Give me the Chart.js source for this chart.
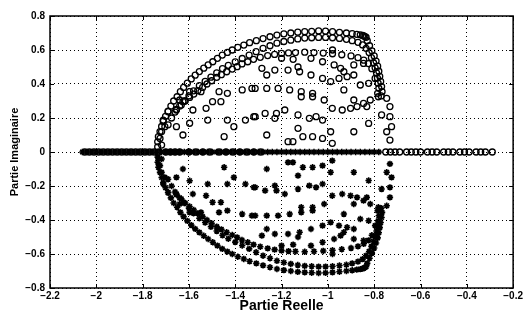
<!DOCTYPE html>
<html>
<head>
<meta charset="utf-8">
<script src="https://cdn.jsdelivr.net/npm/chart.js@4/dist/chart.umd.min.js"></script>
<style>
  html, body { margin: 0; padding: 0; background: #fff; }
  #wrap { width: 525px; height: 311px; }
</style>
</head>
<body>
<div id="wrap"><canvas id="lieu" width="525" height="311"></canvas></div>
<script>
// axis ticks
const xTicks = [-2.2, -2, -1.8, -1.6, -1.4, -1.2, -1, -0.8, -0.6, -0.4, -0.2];
const xTickLabels = ['\u22122.2', '\u22122', '\u22121.8', '\u22121.6', '\u22121.4', '\u22121.2', '\u22121', '\u22120.8', '\u22120.6', '\u22120.4', '\u22120.2'];
const yTicks = [-0.8, -0.6, -0.4, -0.2, 0, 0.2, 0.4, 0.6, 0.8];
const yTickLabels = ['\u22120.8', '\u22120.6', '\u22120.4', '\u22120.2', '0', '0.2', '0.4', '0.6', '0.8'];

// poles with positive imaginary part (o)
const outerArcUp = [[-1.735,0.03],[-1.735,0.06],[-1.732,0.09],[-1.725,0.12],[-1.718,0.15],[-1.711,0.18],[-1.701,0.21],[-1.69,0.24],[-1.678,0.27],[-1.666,0.3],[-1.651,0.325],[-1.637,0.355],[-1.623,0.38],[-1.607,0.405],[-1.59,0.43],[-1.573,0.452],[-1.555,0.473],[-1.536,0.493],[-1.517,0.512],[-1.497,0.531],[-1.477,0.551],[-1.456,0.57],[-1.434,0.586],[-1.413,0.6],[-1.389,0.616],[-1.363,0.629],[-1.338,0.643],[-1.309,0.655],[-1.28,0.667],[-1.25,0.678],[-1.22,0.688],[-1.19,0.695],[-1.16,0.7],[-1.13,0.705],[-1.1,0.708],[-1.07,0.71],[-1.04,0.712],[-1.01,0.711],[-0.98,0.708],[-0.95,0.704],[-0.92,0.7],[-0.895,0.696],[-0.875,0.692],[-0.86,0.689],[-0.85,0.686],[-0.845,0.683],[-0.84,0.679],[-0.835,0.675],[-0.83,0.655],[-0.82,0.625],[-0.81,0.595],[-0.8,0.565],[-0.792,0.535],[-0.785,0.505],[-0.78,0.475],[-0.776,0.445],[-0.772,0.415],[-0.768,0.385],[-0.766,0.355],[-0.77,0.33]];
const secondArcUp = [[-1.69,0.16],[-1.675,0.2],[-1.66,0.235],[-1.64,0.27],[-1.62,0.3],[-1.6,0.33],[-1.58,0.36],[-1.555,0.39],[-1.53,0.415],[-1.505,0.44],[-1.48,0.465],[-1.455,0.49],[-1.43,0.51],[-1.4,0.53],[-1.37,0.55],[-1.34,0.57],[-1.31,0.59],[-1.28,0.61],[-1.25,0.625],[-1.22,0.64],[-1.19,0.65],[-1.16,0.658],[-1.13,0.665],[-1.1,0.67],[-1.07,0.672],[-1.04,0.674],[-1.01,0.674],[-0.98,0.672],[-0.95,0.668],[-0.92,0.663],[-0.895,0.655],[-0.87,0.645],[-0.85,0.63],[-0.835,0.61],[-0.822,0.585],[-0.812,0.555],[-0.803,0.525],[-0.796,0.495],[-0.79,0.465],[-0.786,0.435],[-0.783,0.405],[-0.78,0.375],[-0.785,0.345]];
const thirdArcUp = [[-1.654,0.251],[-1.633,0.276],[-1.616,0.3],[-1.597,0.321],[-1.579,0.341],[-1.562,0.361],[-1.541,0.38],[-1.522,0.4],[-1.502,0.419],[-1.48,0.439],[-1.46,0.455],[-1.437,0.472],[-1.413,0.488],[-1.392,0.502],[-1.371,0.518],[-1.346,0.531],[-1.321,0.545],[-1.292,0.557],[-1.26,0.567],[-1.23,0.574],[-1.2,0.58],[-1.17,0.583],[-1.14,0.585],[-1.1,0.587],[-1.06,0.585],[-1.02,0.582],[-0.98,0.578],[-0.94,0.572],[-0.9,0.565],[-0.87,0.555],[-0.845,0.54],[-0.825,0.52],[-0.81,0.49]];
const innerLeftUp = [[-1.597,0.355],[-1.548,0.355],[-1.47,0.355],[-1.434,0.345],[-1.37,0.365],[-1.328,0.374],[-1.64,0.306],[-1.626,0.296],[-1.498,0.296],[-1.462,0.296],[-1.69,0.237],[-1.654,0.247],[-1.583,0.247],[-1.526,0.257],[-1.711,0.188],[-1.704,0.149],[-1.654,0.149],[-1.597,0.169],[-1.519,0.188],[-1.434,0.188],[-1.356,0.188],[-1.32,0.208],[-1.626,0.1],[-1.448,0.09],[-1.406,0.149],[-1.718,0.12],[-1.725,0.08],[-1.718,0.041]];
const innerRightUp = [[-1.285,0.492],[-1.229,0.482],[-1.172,0.482],[-1.122,0.472],[-1.073,0.551],[-1.023,0.531],[-0.973,0.512],[-0.931,0.472],[-0.888,0.512],[-0.846,0.521],[-1.264,0.453],[-1.314,0.374],[-1.264,0.374],[-1.215,0.374],[-1.165,0.365],[-1.115,0.355],[-1.066,0.345],[-1.023,0.433],[-0.988,0.414],[-0.952,0.433],[-0.917,0.443],[-0.888,0.453],[-0.86,0.394],[-0.824,0.404],[-0.796,0.433],[-1.115,0.325],[-1.066,0.325],[-1.016,0.306],[-0.931,0.365],[-0.888,0.306],[-0.846,0.286],[-0.817,0.306],[-0.782,0.325],[-0.746,0.316],[-0.732,0.267],[-1.314,0.208],[-1.271,0.227],[-1.222,0.227],[-1.229,0.198],[-1.186,0.247],[-1.129,0.218],[-1.08,0.198],[-1.051,0.208],[-1.023,0.188],[-0.981,0.257],[-0.938,0.247],[-0.902,0.257],[-0.874,0.267],[-0.832,0.267],[-0.768,0.218],[-0.732,0.208],[-1.264,0.1],[-1.172,0.061],[-1.151,0.061],[-1.129,0.139],[-1.108,0.09],[-1.066,0.09],[-1.023,0.08],[-0.988,0.119],[-0.981,0.051],[-0.888,0.119],[-0.824,0.168],[-0.746,0.119],[-0.725,0.149],[-0.732,0.07],[-1.2,0.551],[-1.15,0.545],[-0.98,0.6],[-1.129,0.5],[-1.073,0.453],[-0.945,0.492]];

// conjugate poles, negative imaginary part (*)
const outerArcDown = [[-1.735,-0.03],[-1.735,-0.06],[-1.732,-0.09],[-1.725,-0.12],[-1.718,-0.15],[-1.711,-0.18],[-1.701,-0.21],[-1.69,-0.24],[-1.678,-0.27],[-1.666,-0.3],[-1.651,-0.325],[-1.637,-0.355],[-1.623,-0.38],[-1.607,-0.405],[-1.59,-0.43],[-1.573,-0.452],[-1.555,-0.473],[-1.536,-0.493],[-1.517,-0.512],[-1.497,-0.531],[-1.477,-0.551],[-1.456,-0.57],[-1.434,-0.586],[-1.413,-0.6],[-1.389,-0.616],[-1.363,-0.629],[-1.338,-0.643],[-1.309,-0.655],[-1.28,-0.667],[-1.25,-0.678],[-1.22,-0.688],[-1.19,-0.695],[-1.16,-0.7],[-1.13,-0.705],[-1.1,-0.708],[-1.07,-0.71],[-1.04,-0.712],[-1.01,-0.711],[-0.98,-0.708],[-0.95,-0.704],[-0.92,-0.7],[-0.895,-0.696],[-0.875,-0.692],[-0.86,-0.689],[-0.85,-0.686],[-0.845,-0.683],[-0.84,-0.679],[-0.835,-0.675],[-0.83,-0.655],[-0.82,-0.625],[-0.81,-0.595],[-0.8,-0.565],[-0.792,-0.535],[-0.785,-0.505],[-0.78,-0.475],[-0.776,-0.445],[-0.772,-0.415],[-0.768,-0.385],[-0.766,-0.355],[-0.77,-0.33]];
const secondArcDown = [[-1.69,-0.16],[-1.675,-0.2],[-1.66,-0.235],[-1.64,-0.27],[-1.62,-0.3],[-1.6,-0.33],[-1.58,-0.36],[-1.555,-0.39],[-1.53,-0.415],[-1.505,-0.44],[-1.48,-0.465],[-1.455,-0.49],[-1.43,-0.51],[-1.4,-0.53],[-1.37,-0.55],[-1.34,-0.57],[-1.31,-0.59],[-1.28,-0.61],[-1.25,-0.625],[-1.22,-0.64],[-1.19,-0.65],[-1.16,-0.658],[-1.13,-0.665],[-1.1,-0.67],[-1.07,-0.672],[-1.04,-0.674],[-1.01,-0.674],[-0.98,-0.672],[-0.95,-0.668],[-0.92,-0.663],[-0.895,-0.655],[-0.87,-0.645],[-0.85,-0.63],[-0.835,-0.61],[-0.822,-0.585],[-0.812,-0.555],[-0.803,-0.525],[-0.796,-0.495],[-0.79,-0.465],[-0.786,-0.435],[-0.783,-0.405],[-0.78,-0.375],[-0.785,-0.345]];
const thirdArcDown = [[-1.654,-0.251],[-1.633,-0.276],[-1.616,-0.3],[-1.597,-0.321],[-1.579,-0.341],[-1.562,-0.361],[-1.541,-0.38],[-1.522,-0.4],[-1.502,-0.419],[-1.48,-0.439],[-1.46,-0.455],[-1.437,-0.472],[-1.413,-0.488],[-1.392,-0.502],[-1.371,-0.518],[-1.346,-0.531],[-1.321,-0.545],[-1.292,-0.557],[-1.26,-0.567],[-1.23,-0.574],[-1.2,-0.58],[-1.17,-0.583],[-1.14,-0.585],[-1.1,-0.587],[-1.06,-0.585],[-1.02,-0.582],[-0.98,-0.578],[-0.94,-0.572],[-0.9,-0.565],[-0.87,-0.555],[-0.845,-0.54],[-0.825,-0.52],[-0.81,-0.49]];
const innerLeftDown = [[-1.597,-0.355],[-1.548,-0.355],[-1.47,-0.355],[-1.434,-0.345],[-1.37,-0.365],[-1.328,-0.374],[-1.64,-0.306],[-1.626,-0.296],[-1.498,-0.296],[-1.462,-0.296],[-1.69,-0.237],[-1.654,-0.247],[-1.583,-0.247],[-1.526,-0.257],[-1.711,-0.188],[-1.704,-0.149],[-1.654,-0.149],[-1.597,-0.169],[-1.519,-0.188],[-1.434,-0.188],[-1.356,-0.188],[-1.32,-0.208],[-1.626,-0.1],[-1.448,-0.09],[-1.406,-0.149],[-1.718,-0.12],[-1.725,-0.08],[-1.718,-0.041]];
const innerRightDown = [[-1.285,-0.492],[-1.229,-0.482],[-1.172,-0.482],[-1.122,-0.472],[-1.073,-0.551],[-1.023,-0.531],[-0.973,-0.512],[-0.931,-0.472],[-0.888,-0.512],[-0.846,-0.521],[-1.264,-0.453],[-1.314,-0.374],[-1.264,-0.374],[-1.215,-0.374],[-1.165,-0.365],[-1.115,-0.355],[-1.066,-0.345],[-1.023,-0.433],[-0.988,-0.414],[-0.952,-0.433],[-0.917,-0.443],[-0.888,-0.453],[-0.86,-0.394],[-0.824,-0.404],[-0.796,-0.433],[-1.115,-0.325],[-1.066,-0.325],[-1.016,-0.306],[-0.931,-0.365],[-0.888,-0.306],[-0.846,-0.286],[-0.817,-0.306],[-0.782,-0.325],[-0.746,-0.316],[-0.732,-0.267],[-1.314,-0.208],[-1.271,-0.227],[-1.222,-0.227],[-1.229,-0.198],[-1.186,-0.247],[-1.129,-0.218],[-1.08,-0.198],[-1.051,-0.208],[-1.023,-0.188],[-0.981,-0.257],[-0.938,-0.247],[-0.902,-0.257],[-0.874,-0.267],[-0.832,-0.267],[-0.768,-0.218],[-0.732,-0.208],[-1.264,-0.1],[-1.172,-0.061],[-1.151,-0.061],[-1.129,-0.139],[-1.108,-0.09],[-1.066,-0.09],[-1.023,-0.08],[-0.988,-0.119],[-0.981,-0.051],[-0.888,-0.119],[-0.824,-0.168],[-0.746,-0.119],[-0.725,-0.149],[-0.732,-0.07],[-1.2,-0.551],[-1.15,-0.545],[-0.98,-0.6],[-1.129,-0.5],[-1.073,-0.453],[-0.945,-0.492]];

// real poles (on the axis)
const realCircX = [-2.05,-2.03,-2.01,-1.99,-1.97,-1.95,-1.93,-1.91,-1.89,-1.87,-1.85,-1.83,-1.81,-1.79,-1.77,-1.75,-1.73,-1.7,-1.68,-1.66,-1.64,-1.6,-1.57,-1.54,-1.51,-1.47,-1.44,-1.41,-1.38,-1.35,-1.32,-1.29,
  -0.75,-0.73,-0.71,-0.69,-0.66,-0.64,-0.62,-0.6,-0.57,-0.55,-0.53,-0.5,-0.48,-0.46,-0.43,-0.41,-0.39,-0.36,-0.34,-0.32,-0.29];
const realStarX = [-2.06,-2.04,-2.02,-2.0,-1.98,-1.96,-1.94,-1.92,-1.9,-1.88,-1.86,-1.84,-1.82,-1.8,-1.78,-1.76,-1.74,-1.72,-1.7,-1.68,-1.66,-1.64,-1.62,-1.6,-1.58,-1.56,-1.54,-1.52,-1.5,-1.48,-1.46,-1.44,-1.42,-1.4,-1.38,-1.36,-1.34,-1.32,-1.3,-1.28,-1.26,-1.24,-1.22,-1.2,-1.18,-1.16,-1.14,-1.12,-1.1,-1.08,-1.06,-1.04,-1.02,-1.0,-0.98,-0.96,-0.94,-0.92,-0.9,-0.88,-0.86,-0.84,-0.82,-0.8,-0.78];

const toPts = arr => arr.map(p => ({x: p[0], y: p[1]}));

const circPts = toPts([].concat(outerArcUp, secondArcUp, thirdArcUp, innerLeftUp, innerRightUp))
  .concat(realCircX.map(v => ({x: v, y: 0})));
const starPts = toPts([].concat(outerArcDown, secondArcDown, thirdArcDown, innerLeftDown, innerRightDown))
  .concat(realStarX.map(v => ({x: v, y: 0})));

const fam = "'Liberation Sans', Arial, sans-serif";
const labelFont = {family: fam, size: 10, weight: 'bold'};

// black frame + inward ticks like matlab
const framePlugin = {
  id: 'frame',
  afterDatasetsDraw(chart) {
    const ctx = chart.ctx;
    const a = chart.chartArea;
    const xs = chart.scales.x, ys = chart.scales.y;
    ctx.save();
    ctx.strokeStyle = '#000';
    ctx.lineWidth = 1.5;
    ctx.strokeRect(a.left, a.top, a.right - a.left, a.bottom - a.top);
    ctx.lineWidth = 1;
    ctx.beginPath();
    xTicks.forEach(v => {
      const px = Math.round(xs.getPixelForValue(v)) + 0.5;
      ctx.moveTo(px, a.bottom); ctx.lineTo(px, a.bottom - 4);
      ctx.moveTo(px, a.top); ctx.lineTo(px, a.top + 4);
    });
    yTicks.forEach(v => {
      const py = Math.round(ys.getPixelForValue(v)) + 0.5;
      ctx.moveTo(a.left, py); ctx.lineTo(a.left + 4, py);
      ctx.moveTo(a.right, py); ctx.lineTo(a.right - 4, py);
    });
    ctx.stroke();
    ctx.restore();
  }
};

new Chart(document.getElementById('lieu'), {
  type: 'scatter',
  data: {
    datasets: [
      {
        label: 'poles *',
        data: starPts,
        pointStyle: 'star',
        pointRadius: 3.2,
        borderWidth: 1.6,
        borderColor: '#000',
        backgroundColor: '#000'
      },
      {
        label: 'poles o',
        data: circPts,
        pointStyle: 'circle',
        pointRadius: 3,
        borderWidth: 1.3,
        borderColor: '#000',
        backgroundColor: 'rgba(255,255,255,0)'
      }
    ]
  },
  options: {
    responsive: false,
    animation: false,
    devicePixelRatio: 1,
    layout: { padding: { top: 16, right: 6, left: 0, bottom: 0 } },
    plugins: {
      legend: { display: false },
      tooltip: { enabled: false }
    },
    scales: {
      x: {
        type: 'linear',
        min: -2.2,
        max: -0.2,
        afterBuildTicks: s => { s.ticks = xTicks.map(v => ({value: v})); },
        afterFit: s => { s.height = 23; },
        ticks: {
          color: '#000',
          font: labelFont,
          padding: 2,
          maxRotation: 0,
          autoSkip: false,
          callback: (v, i) => xTickLabels[i]
        },
        grid: { color: '#000', lineWidth: 1, drawTicks: false },
        border: { display: false, dash: [1, 3] },
        title: {
          display: true,
          text: 'Partie Reelle',
          color: '#000',
          font: {family: fam, size: 14, weight: 'bold', lineHeight: 0.72},
          padding: { top: 0, bottom: 0 }
        }
      },
      y: {
        type: 'linear',
        min: -0.8,
        max: 0.8,
        afterBuildTicks: s => { s.ticks = yTicks.map(v => ({value: v})); },
        afterFit: s => { s.width = 50; },
        ticks: {
          color: '#000',
          font: labelFont,
          padding: 5,
          autoSkip: false,
          callback: (v, i) => yTickLabels[i]
        },
        grid: { color: '#000', lineWidth: 1, drawTicks: false },
        border: { display: false, dash: [1, 3] },
        title: {
          display: true,
          text: 'Partie Imaginaire',
          color: '#000',
          font: {family: fam, size: 11, weight: 'bold'},
          padding: { top: 8, bottom: 0 }
        }
      }
    }
  },
  plugins: [framePlugin]
});
</script>
</body>
</html>
